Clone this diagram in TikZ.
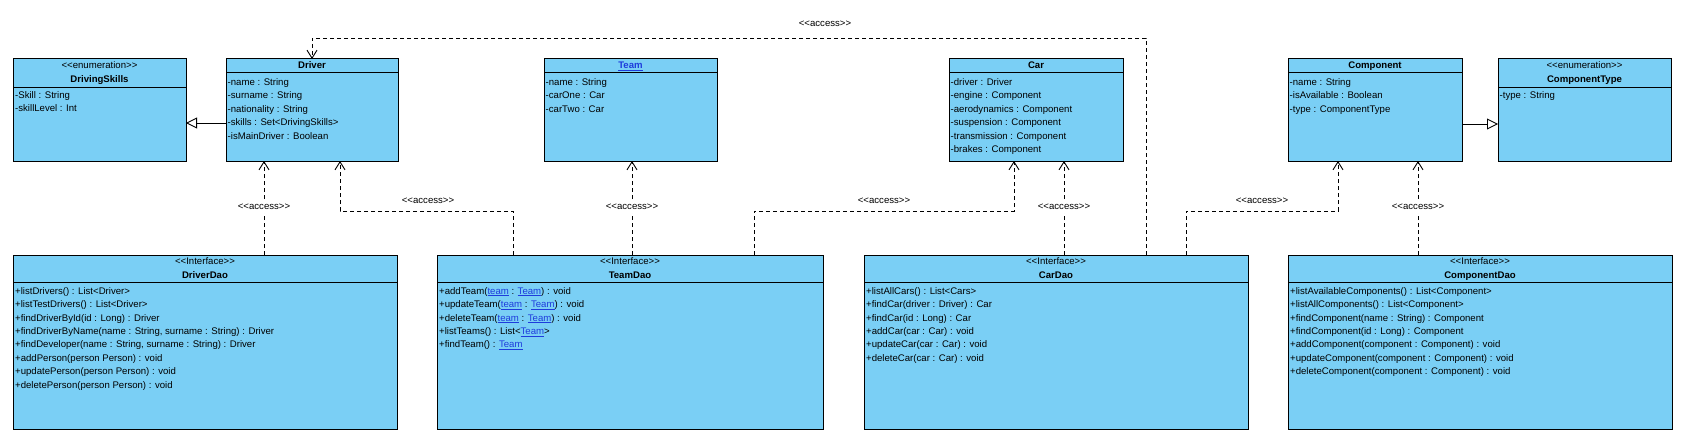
\documentclass[tikz,border=0pt]{standalone}
\usepackage{fontspec}
\newfontfamily\umlfont{Liberation Sans}
\usetikzlibrary{arrows.meta}
\definecolor{clsfill}{RGB}{122,207,245}
\definecolor{linkblue}{RGB}{30,60,220}
\newcommand\lnk[1]{\textcolor{linkblue}{\underline{#1}}}
\newcommand\umlbox[6]{%
  \node[box, minimum width=#4pt, minimum height=#5pt] (#1) at (#2,#3) {};
  \draw[line width=1pt] ([yshift=-#6pt]#1.north west) -- ([yshift=-#6pt]#1.north east);}
\newcommand\attrs[4]{\foreach \t [count=\i] in {#4} {\node[attr] (#1-\i) at (#2,{#3+13.4*(\i-1)}) {\t};}}
\begin{document}
\begin{tikzpicture}[x=1pt,y=-1pt,
  every node/.style={font=\umlfont\fontsize{9.6}{12}\selectfont},
  box/.style={draw=black, line width=1pt, fill=clsfill, anchor=north west, inner sep=0pt, outer sep=0pt},
  attr/.style={anchor=west, inner sep=0pt, text height=7pt, text depth=2pt},
  ctext/.style={anchor=center, inner sep=0pt, text height=7pt, text depth=2pt},
  ttl/.style={ctext, font=\umlfont\bfseries\fontsize{9.6}{12}\selectfont},
  dep/.style={dash pattern=on 4pt off 3pt, line width=0.9pt, -{Straight Barb[length=8pt,width=10pt]}},
  gen/.style={line width=0.9pt, -{Triangle[open,length=11pt,width=11pt,fill=white]}},
  lbl/.style={ctext, fill=white, inner sep=1pt}]
\fill[white] (0,0) rectangle (1684,444);
\useasboundingbox (0,0) rectangle (1684,444);

% top row
\umlbox{drivingskills}{13}{59}{173}{102}{28}
\node[ctext] (ds-st) at (99.5,66) {<<enumeration>>};
\node[ttl] (ds-t) at (99.5,79.5) {DrivingSkills};
\attrs{ds}{15}{95.5}{-Skill : String, -skillLevel : Int}

\umlbox{driver}{226}{59}{172}{102}{14}
\node[ttl] (dr-t) at (312,66) {Driver};
\attrs{dr}{227.5}{83}{-name : String, -surname : String, -nationality : String, -skills : Set<DrivingSkills>, -isMainDriver : Boolean}

\umlbox{team}{544}{59}{173}{102}{14}
\node[ttl] (tm-t) at (630.5,66) {\lnk{Team}};
\attrs{tm}{545.5}{83}{-name : String, -carOne : Car, -carTwo : Car}

\umlbox{car}{949}{59}{174}{102}{14}
\node[ttl] (cr-t) at (1036,66) {Car};
\attrs{cr}{950.5}{83}{-driver : Driver, -engine : Component, -aerodynamics : Component, -suspension : Component, -transmission : Component, -brakes : Component}

\umlbox{component}{1288}{59}{174}{102}{14}
\node[ttl] (cp-t) at (1375,66) {Component};
\attrs{cp}{1289.5}{83}{-name : String, -isAvailable : Boolean, -type : ComponentType}

\umlbox{componenttype}{1498}{59}{173}{102}{28}
\node[ctext] (ct-st) at (1584.5,66) {<<enumeration>>};
\node[ttl] (ct-t) at (1584.5,79.5) {ComponentType};
\attrs{ct}{1499.5}{95.5}{-type : String}

% bottom row
\umlbox{driverdao}{13}{255}{384}{174}{27}
\node[ctext] (dd-st) at (205,262) {<<Interface>>};
\node[ttl] (dd-t) at (205,276) {DriverDao};
\attrs{dd}{15}{291.7}{+listDrivers() : List<Driver>, +listTestDrivers() : List<Driver>, +findDriverById(id : Long) : Driver, {+findDriverByName(name : String, surname : String) : Driver}, {+findDeveloper(name : String, surname : String) : Driver}, +addPerson(person Person) : void, +updatePerson(person Person) : void, +deletePerson(person Person) : void}

\umlbox{teamdao}{437}{255}{386}{174}{27}
\node[ctext] (td-st) at (630,262) {<<Interface>>};
\node[ttl] (td-t) at (630,276) {TeamDao};
\attrs{td}{439}{291.7}{+addTeam(\lnk{team} : \lnk{Team}) : void, +updateTeam(\lnk{team} : \lnk{Team}) : void, +deleteTeam(\lnk{team} : \lnk{Team}) : void, +listTeams() : List<\lnk{Team}>, +findTeam() : \lnk{Team}}

\umlbox{cardao}{864}{255}{384}{174}{27}
\node[ctext] (cd-st) at (1056,262) {<<Interface>>};
\node[ttl] (cd-t) at (1056,276) {CarDao};
\attrs{cd}{866}{291.7}{+listAllCars() : List<Cars>, +findCar(driver : Driver) : Car, +findCar(id : Long) : Car, +addCar(car : Car) : void, +updateCar(car : Car) : void, +deleteCar(car : Car) : void}

\umlbox{componentdao}{1288}{255}{384}{174}{27}
\node[ctext] (pd-st) at (1480,262) {<<Interface>>};
\node[ttl] (pd-t) at (1480,276) {ComponentDao};
\attrs{pd}{1290}{291.7}{+listAvailableComponents() : List<Component>, +listAllComponents() : List<Component>, +findComponent(name : String) : Component, +findComponent(id : Long) : Component, +addComponent(component : Component) : void, +updateComponent(component : Component) : void, +deleteComponent(component : Component) : void}

% generalizations
\draw[gen] ([yshift=-64pt]driver.north west) -- ([yshift=-64pt]drivingskills.north east);
\draw[gen] ([yshift=-65pt]component.north east) -- ([yshift=-65pt]componenttype.north west);

% dependencies
\draw[dep] ([xshift=251pt]driverdao.north west) -- ([xshift=38pt]driver.south west);
\draw[dep] ([xshift=76pt]teamdao.north west) -- ++(0,-44) -| ([xshift=114pt]driver.south west);
\draw[dep] ([xshift=195pt]teamdao.north west) -- ([xshift=88pt]team.south west);
\draw[dep] ([xshift=317pt]teamdao.north west) -- ++(0,-44) -| ([xshift=65pt]car.south west);
\draw[dep] ([xshift=200pt]cardao.north west) -- ([xshift=115pt]car.south west);
\draw[dep] ([xshift=282pt]cardao.north west) -- ++(0,-217) -| ([xshift=86pt]driver.north west);
\draw[dep] ([xshift=322pt]cardao.north west) -- ++(0,-44) -| ([xshift=50pt]component.south west);
\draw[dep] ([xshift=130pt]componentdao.north west) -- ([xshift=130pt]component.south west);

% labels
\node[lbl] (a1) at (264,207) {<<access>>};
\node[lbl] (a2) at (428,201) {<<access>>};
\node[lbl] (a3) at (632,207) {<<access>>};
\node[lbl] (a4) at (884,201) {<<access>>};
\node[lbl] (a5) at (1064,207) {<<access>>};
\node[lbl] (a6) at (825,24) {<<access>>};
\node[lbl] (a7) at (1262,201) {<<access>>};
\node[lbl] (a8) at (1418,207) {<<access>>};
\end{tikzpicture}
\end{document}
